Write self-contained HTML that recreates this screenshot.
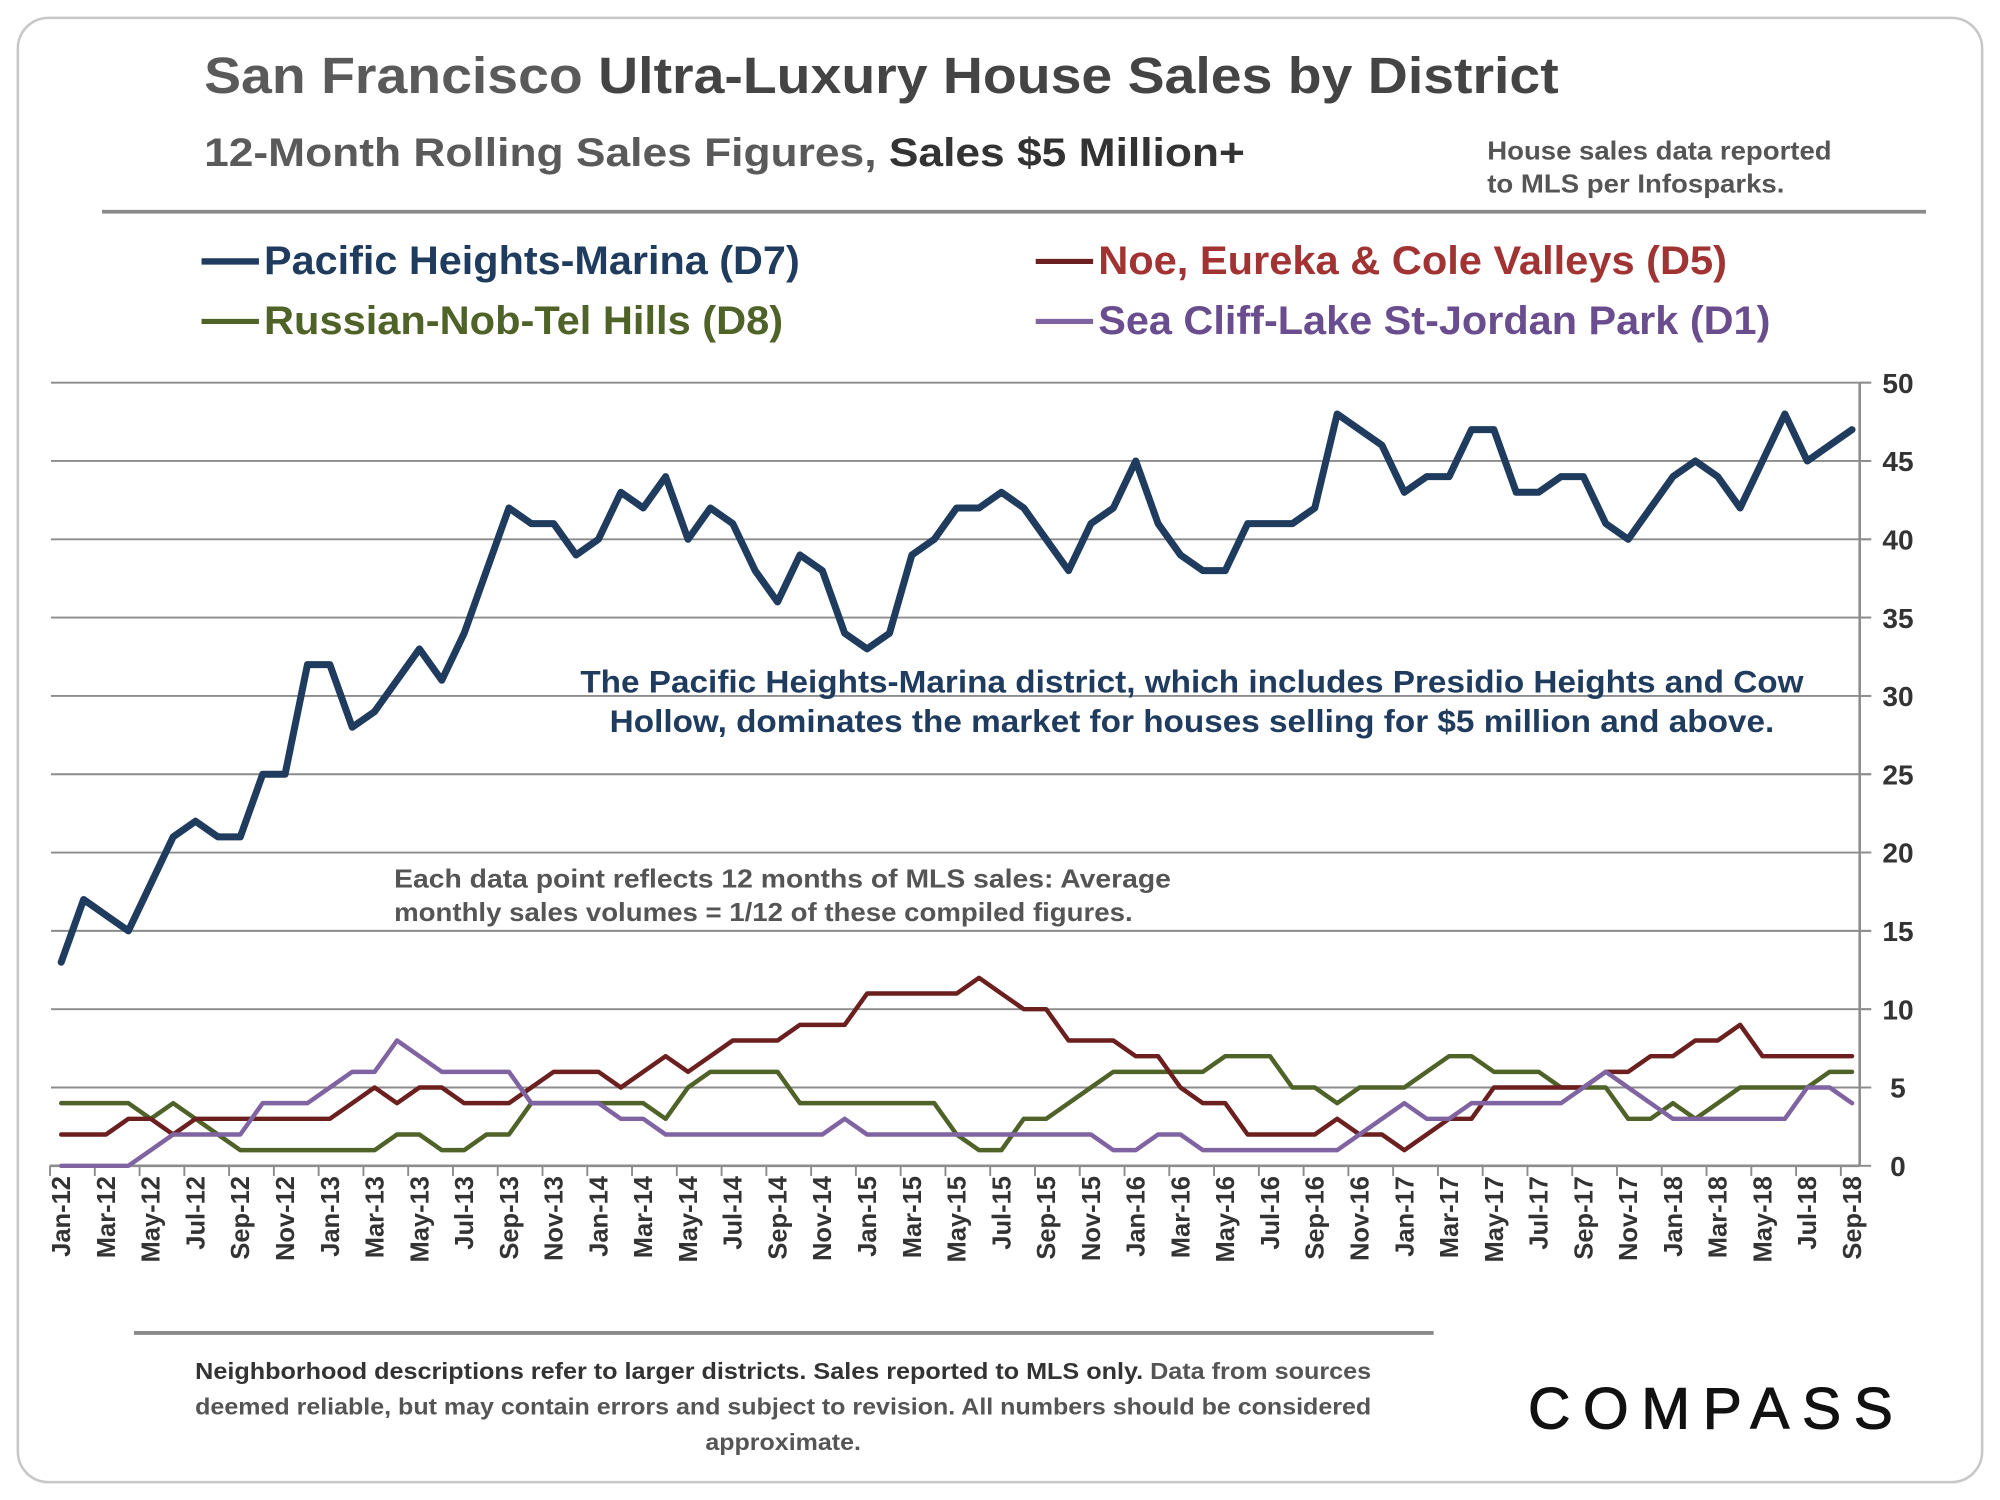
<!DOCTYPE html>
<html><head><meta charset="utf-8">
<style>
html,body{margin:0;padding:0;background:#fff;}
svg{display:block;font-family:"Liberation Sans",Arial,sans-serif;}
</style></head>
<body>
<svg id="chart" width="2000" height="1500" viewBox="0 0 1568 1176" xmlns="http://www.w3.org/2000/svg">
  <rect x="14" y="14" width="1540" height="1148" rx="24" fill="#fff" stroke="#c8c8c8" stroke-width="2"/>
  <text x="160" y="73" font-size="40" font-weight="bold" fill="#5a5a5a" textLength="1062" lengthAdjust="spacingAndGlyphs">San Francisco <tspan fill="#444">Ultra-Luxury House Sales by District</tspan></text>
  <text x="160" y="130" font-size="31" font-weight="bold" fill="#5a5a5a" textLength="816" lengthAdjust="spacingAndGlyphs">12-Month Rolling Sales Figures, <tspan fill="#333">Sales $5 Million+</tspan></text>
  <text x="1166" y="125" font-size="20" font-weight="bold" fill="#555" textLength="270" lengthAdjust="spacingAndGlyphs">House sales data reported</text>
  <text x="1166" y="151" font-size="20" font-weight="bold" fill="#555" textLength="233" lengthAdjust="spacingAndGlyphs">to MLS per Infosparks.</text>
  <line x1="80" y1="166" x2="1510" y2="166" stroke="#8a8a8a" stroke-width="3"/>

  <g font-size="31" font-weight="bold">
    <g>
      <line x1="158" y1="205" x2="203" y2="205" stroke="#1f3b5e" stroke-width="5"/>
      <text x="207" y="215" fill="#1f3b5e" textLength="420" lengthAdjust="spacingAndGlyphs">Pacific Heights-Marina (D7)</text>
    </g>
    <g>
      <line x1="812" y1="205" x2="857" y2="205" stroke="#6b1f1f" stroke-width="4"/>
      <text x="861" y="215" fill="#a23333" textLength="493" lengthAdjust="spacingAndGlyphs">Noe, Eureka &amp; Cole Valleys (D5)</text>
    </g>
    <g>
      <line x1="158" y1="252" x2="203" y2="252" stroke="#4f6228" stroke-width="4"/>
      <text x="207" y="262" fill="#4f6228" textLength="407" lengthAdjust="spacingAndGlyphs">Russian-Nob-Tel Hills (D8)</text>
    </g>
    <g>
      <line x1="812" y1="252" x2="857" y2="252" stroke="#8064a2" stroke-width="4"/>
      <text x="861" y="262" fill="#6a4d8f" textLength="527" lengthAdjust="spacingAndGlyphs">Sea Cliff-Lake St-Jordan Park (D1)</text>
    </g>
  </g>

  <g id="grid"></g>
  <g id="axes"></g>
  <g id="series"></g>

  <text x="455" y="543" font-size="25" font-weight="bold" fill="#1f3b5e" textLength="959" lengthAdjust="spacingAndGlyphs">The Pacific Heights-Marina district, which includes Presidio Heights and Cow</text>
  <text x="478" y="574" font-size="25" font-weight="bold" fill="#1f3b5e" textLength="913" lengthAdjust="spacingAndGlyphs">Hollow, dominates the market for houses selling for $5 million and above.</text>
  <text x="309" y="696" font-size="20" font-weight="bold" fill="#555" textLength="609" lengthAdjust="spacingAndGlyphs">Each data point reflects 12 months of MLS sales:  Average</text>
  <text x="309" y="722" font-size="20" font-weight="bold" fill="#555" textLength="579" lengthAdjust="spacingAndGlyphs">monthly sales volumes = 1/12 of these compiled figures.</text>

  <line x1="105" y1="1045" x2="1124" y2="1045" stroke="#8a8a8a" stroke-width="3"/>
  <g font-size="18" font-weight="bold">
    <text x="153" y="1081" fill="#333" textLength="922" lengthAdjust="spacingAndGlyphs">Neighborhood descriptions refer to larger districts.  Sales reported to MLS only. <tspan fill="#555">Data from sources</tspan></text>
    <text x="153" y="1109" fill="#555" textLength="922" lengthAdjust="spacingAndGlyphs">deemed reliable, but may contain errors and subject to revision. All numbers should be considered</text>
    <text x="553" y="1137" fill="#555" textLength="122" lengthAdjust="spacingAndGlyphs">approximate.</text>
  </g>
  <text x="1198" y="1120" font-size="46" fill="#111" stroke="#111" stroke-width="0.8" textLength="286" lengthAdjust="spacing">COMPASS</text>
</svg>
<script>
const months = ["Jan","Feb","Mar","Apr","May","Jun","Jul","Aug","Sep","Oct","Nov","Dec"];
const categories = [];
for (let y = 12; y <= 18; y++) for (let m = 0; m < 12; m++) { if (y === 18 && m > 8) break; categories.push(months[m] + "-" + y); }
const d7 = [13,17,16,15,18,21,22,21,21,25,25,32, 32,28,29,31,33,31,34,38,42,41,41,39, 40,43,42,44,40,42,41,38,36,39,38,34, 33,34,39,40,42,42,43,42,40,38,41,42, 45,41,39,38,38,41,41,41,42,48,47,46, 43,44,44,47,47,43,43,44,44,41,40,42, 44,45,44,42,45,48,45,46,47];
const d5 = [2,2,2,3,3,2,3,3,3,3,3,3, 3,4,5,4,5,5,4,4,4,5,6,6, 6,5,6,7,6,7,8,8,8,9,9,9, 11,11,11,11,11,12,11,10,10,8,8,8, 7,7,5,4,4,2,2,2,2,3,2,2, 1,2,3,3,5,5,5,5,5,6,6,7, 7,8,8,9,7,7,7,7,7];
const d8 = [4,4,4,4,3,4,3,2,1,1,1,1, 1,1,1,2,2,1,1,2,2,4,4,4, 4,4,4,3,5,6,6,6,6,4,4,4, 4,4,4,4,2,1,1,3,3,4,5,6, 6,6,6,6,7,7,7,5,5,4,5,5, 5,6,7,7,6,6,6,5,5,5,3,3, 4,3,4,5,5,5,5,6,6];
const d1 = [0,0,0,0,1,2,2,2,2,4,4,4, 5,6,6,8,7,6,6,6,6,4,4,4, 4,3,3,2,2,2,2,2,2,2,2,3, 2,2,2,2,2,2,2,2,2,2,2,1, 1,2,2,1,1,1,1,1,1,1,2,3, 4,3,3,4,4,4,4,4,5,6,5,4, 3,3,3,3,3,3,5,5,4];
const yTicks = [0,5,10,15,20,25,30,35,40,45,50];

const NS = "http://www.w3.org/2000/svg";
const X0 = 48, X1 = 1452, Y0 = 914, Y50 = 300, YMAX = 50;
function xs(i){ return X0 + (X1 - X0) * i / (categories.length - 1); }
function ys(v){ return Y0 - (Y0 - Y50) * v / YMAX; }
function mk(tag, attrs, parent){ const e = document.createElementNS(NS, tag); for (const k in attrs) e.setAttribute(k, attrs[k]); parent.appendChild(e); return e; }

const grid = document.getElementById("grid");
const axes = document.getElementById("axes");
const series = document.getElementById("series");

yTicks.forEach(v => {
  if (v > 0) {
    const g = mk("line", {x1:40, x2:1467, y1:ys(v), y2:ys(v), stroke:"#8c8c8c", "stroke-width":1.5}, grid);
    
    
  }
  const tk = mk("line", {x1:1458, x2:1467, y1:ys(v), y2:ys(v), stroke:"#8c8c8c", "stroke-width":1.5}, axes);
  
  
  const t = mk("text", {x:1488, y:ys(v) + 8, "font-size":22, "font-weight":"bold", fill:"#333", "text-anchor":"middle"}, axes);
  t.textContent = v;
  
  
});
const ya = mk("line", {x1:1458, x2:1458, y1:ys(YMAX), y2:Y0, stroke:"#8c8c8c", "stroke-width":2}, axes);


const xa = mk("line", {x1:39, x2:1458, y1:Y0, y2:Y0, stroke:"#8c8c8c", "stroke-width":2}, axes);



const half = (xs(1) - xs(0)) / 2;
for (let i = 0; i <= categories.length; i += 2) {
  const x = xs(i) - half;
  const tk = mk("line", {x1:x, x2:x, y1:Y0, y2:Y0 + 8, stroke:"#8c8c8c", "stroke-width":1.5}, axes);
  
  
}
categories.forEach((c, i) => {
  if (i % 2) return;
  const x = xs(i) + 7, y = 922;
  const t = mk("text", {x:x, y:y, "font-size":20, "font-weight":"bold", fill:"#333", "text-anchor":"end", transform:"rotate(-90 " + x + " " + y + ")"}, axes);
  t.textContent = c;
  
  
});

function drawSeries(data, color, width, name) {
  const pts = data.map((v, i) => xs(i).toFixed(2) + "," + ys(v).toFixed(2)).join(" ");
  const p = mk("polyline", {points:pts, fill:"none", stroke:color, "stroke-width":width, "stroke-linejoin":"round", "stroke-linecap":"round"}, series);
  
  
}
drawSeries(d8, "#4f6228", 3.5, "line-russian-nob-tel-hills-d8");
drawSeries(d5, "#6b1f1f", 3.5, "line-noe-eureka-cole-valleys-d5");
drawSeries(d1, "#8064a2", 3.5, "line-sea-cliff-d1");
drawSeries(d7, "#1f3b5e", 5.5, "line-pacific-heights-marina-d7");
</script>
</body></html>
